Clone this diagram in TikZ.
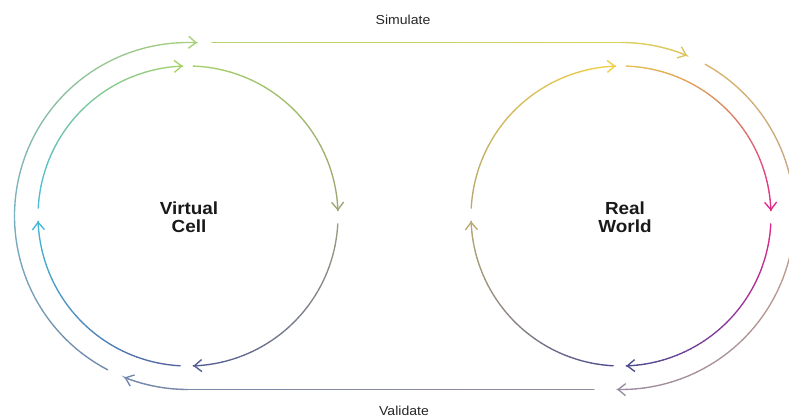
\documentclass[tikz,border=0pt]{standalone}
\usepackage{fontspec}
\setmainfont{Liberation Sans}[FakeStretch=1.08]
\usetikzlibrary{arrows.meta,calc}
\tikzset{
  ring/.style={line width=1.35pt, line cap=round},
  tipped/.style={-{Straight Barb[length=7.5pt,width=12pt]}},
  lbl/.style={font=\fontsize{13}{15}\selectfont, text=black!85},
  big/.style={font=\bfseries\fontsize{17.5}{18.5}\selectfont, align=center, text=black!90},
}
% gradient arc: center name, radius, start, end, colour A, colour B
\newcommand\gradarc[6]{%
  \foreach \k in {1,...,30}{%
    \pgfmathsetmacro\sa{#3+(#4-(#3))*(\k-1)/30}%
    \pgfmathsetmacro\ea{#3+(#4-(#3))*\k/30}%
    \pgfmathtruncatemacro\pc{round(100*(\k-0.5)/30)}%
    \draw[ring, #6!\pc!#5] ([shift={(\sa:#2)}]#1) arc[start angle=\sa, end angle=\ea, radius=#2];
  }}
% gradient horizontal line: y, x0, x1, colour A, colour B
\newcommand\gradline[5]{%
  \foreach \k in {1,...,30}{%
    \pgfmathsetmacro\xa{#2+(#3-(#2))*(\k-1)/30}%
    \pgfmathsetmacro\xb{#2+(#3-(#2))*\k/30}%
    \pgfmathtruncatemacro\pc{round(100*(\k-0.5)/30)}%
    \draw[ring, #5!\pc!#4] (\xa,#1) -- (\xb,#1);
  }}
% arrow tip at the end of a clockwise arc: center name, radius, end angle, colour
\newcommand\tiparc[4]{%
  \pgfmathsetmacro\ta{#3+1}%
  \draw[ring, tipped, #4] ([shift={(\ta:#2)}]#1) arc[start angle=\ta, end angle=#3, radius=#2];}

\definecolor{lqa}{HTML}{A6D16A}
\definecolor{lqb}{HTML}{9FA674}
\definecolor{lqc}{HTML}{9A9C80}
\definecolor{lqd}{HTML}{555C96}
\definecolor{lqe}{HTML}{5560A0}
\definecolor{lqf}{HTML}{45B8D6}
\definecolor{lqg}{HTML}{4CBCD8}
\definecolor{loa}{HTML}{7088AA}
\definecolor{lob}{HTML}{78B0C2}
\definecolor{loc}{HTML}{A8D07A}
\definecolor{sia}{HTML}{B4D26C}
\definecolor{sib}{HTML}{DCD25E}
\definecolor{sic}{HTML}{DCC460}
\definecolor{roa}{HTML}{D8B46C}
\definecolor{rob}{HTML}{C4A08A}
\definecolor{roc}{HTML}{9A8AA0}
\definecolor{vaa}{HTML}{948C9C}
\definecolor{vab}{HTML}{7A88A6}
\definecolor{rqa}{HTML}{E6C24E}
\definecolor{rqb}{HTML}{DC8A66}
\definecolor{rqc}{HTML}{E0288A}
\definecolor{rqd}{HTML}{8A3C9E}
\definecolor{rqe}{HTML}{4C4C90}
\definecolor{rqf}{HTML}{8A8484}
\definecolor{rqg}{HTML}{B8A872}
\definecolor{rqh}{HTML}{F0D044}

\begin{document}
\begin{tikzpicture}[x=1pt,y=1pt]
\useasboundingbox (0,0) rectangle (789,419);
\clip (0,0) rectangle (789,419);
\coordinate (L) at (188,203);
\coordinate (R) at (621,203);

% inner left circle
\gradarc{L}{150}{88}{2}{lqa}{lqb}
\tiparc{L}{150}{2}{lqb}
\gradarc{L}{150}{-3}{-88}{lqc}{lqd}
\tiparc{L}{150}{-88}{lqd}
\gradarc{L}{150}{-93}{-178}{lqe}{lqf}
\tiparc{L}{150}{-178}{lqf}
\gradarc{L}{150}{177}{92}{lqg}{lqa}
\tiparc{L}{150}{92}{lqa}

% outer left arc
\gradarc{L}{173.5}{242.4}{180}{loa}{lob}
\gradarc{L}{173.5}{180}{87}{lob}{loc}
\tiparc{L}{173.5}{87}{loc}

% Simulate path
\gradline{376.5}{212}{621}{sia}{sib}
\gradarc{R}{173.5}{90}{67.6}{sib}{sic}
\tiparc{R}{173.5}{67.6}{sic}

% outer right arc
\gradarc{R}{173.5}{61}{0}{roa}{rob}
\gradarc{R}{173.5}{0}{-91.3}{rob}{roc}
\tiparc{R}{173.5}{-91.3}{roc}

% Validate path
\gradline{29.5}{594}{188}{vaa}{vab}
\gradarc{L}{173.5}{270}{248.5}{vab}{loa}
\tiparc{L}{173.5}{248.5}{loa}

% inner right circle
\gradarc{R}{150}{88}{45}{rqa}{rqb}
\gradarc{R}{150}{45}{2}{rqb}{rqc}
\tiparc{R}{150}{2}{rqc}
\gradarc{R}{150}{-3}{-45}{rqc}{rqd}
\gradarc{R}{150}{-45}{-88}{rqd}{rqe}
\tiparc{R}{150}{-88}{rqe}
\gradarc{R}{150}{-93}{-135}{rqe}{rqf}
\gradarc{R}{150}{-135}{-178}{rqf}{rqg}
\tiparc{R}{150}{-178}{rqg}
\gradarc{R}{150}{177}{92}{rqg}{rqh}
\tiparc{R}{150}{92}{rqh}

% labels
\node[lbl] (sim) at (403,399.5) {Simulate};
\node[lbl] (val) at (404,8.5) {Validate};
\node[big] (vc) at (189,201.5) {Virtual\\Cell};
\node[big] (rw) at (625,201.5) {Real\\World};
\end{tikzpicture}
\end{document}
